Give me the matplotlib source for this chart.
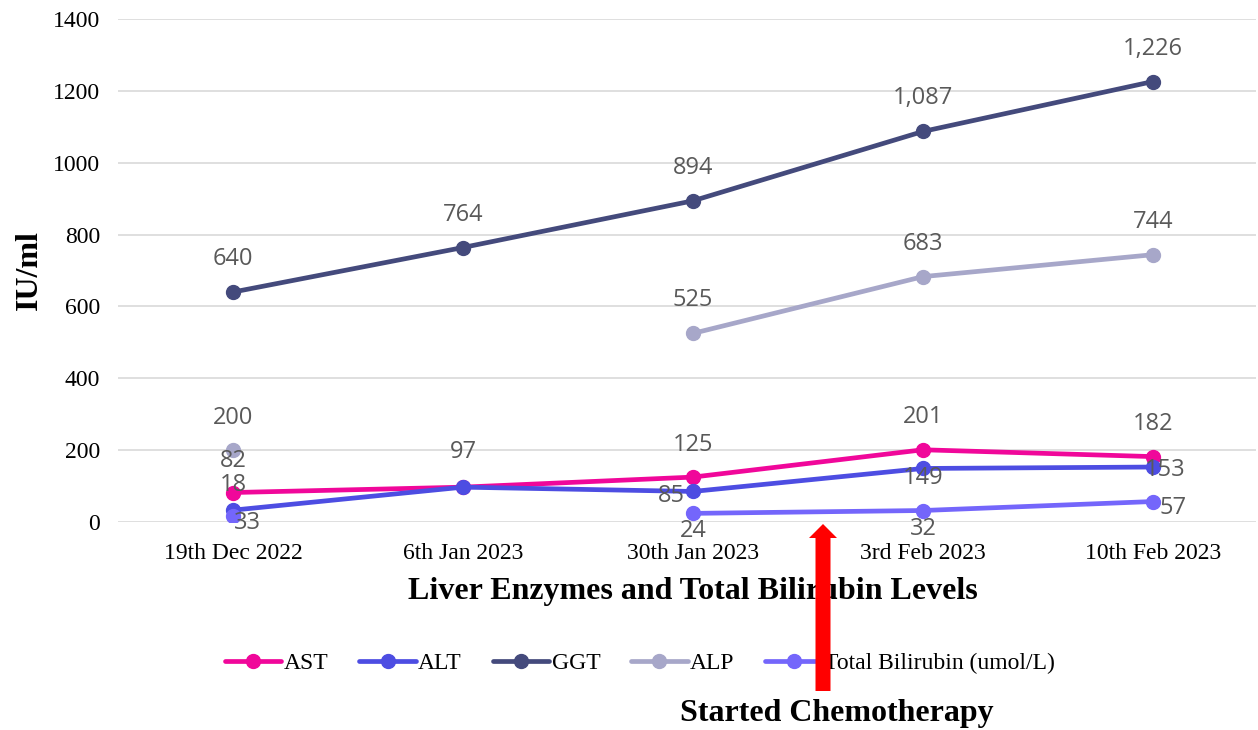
import numpy as np
import matplotlib.pyplot as plt
from matplotlib.patches import FancyArrow

dates = ["19th Dec 2022", "6th Jan 2023", "30th Jan 2023", "3rd Feb 2023", "10th Feb 2023"]
ast = [82, 97, 125, 201, 182]
alt = [33, 97, 85, 149, 153]
ggt = [640, 764, 894, 1087, 1226]
alp = [200, np.nan, 525, 683, 744]
bilirubin = [18, np.nan, 24, 32, 57]

series = [
    ("AST", ast, "#F0079A"),
    ("ALT", alt, "#4D4DE2"),
    ("GGT", ggt, "#444A7C"),
    ("ALP", alp, "#A7A7C9"),
    ("Total Bilirubin (umol/L)", bilirubin, "#7466FB"),
]

# label offsets in pixels (dx, dy) per series per point
offsets = {
    "AST": [(0, 32), (0, 35), (0, 32), (0, 33), (0, 33)],
    "ALT": [(14, -13), None, (-22, -5), (0, -10), (12, -3)],
    "GGT": [(0, 33)] * 5,
    "ALP": [(0, 32), None, (0, 33), (0, 33), (0, 33)],
    "Total Bilirubin (umol/L)": [(0, 31), None, (0, -18), (0, -18), (20, -6)],
}

serif = "Liberation Serif"
lab_color = "#595959"

fig = plt.figure(figsize=(12.58, 7.3), dpi=100)
ax = fig.add_axes([118 / 1258, 1 - 522 / 730, 1138 / 1258, (522 - 19) / 730])

x = np.arange(len(dates))
for name, vals, col in series:
    ax.plot(x, vals, color=col, lw=3.4, marker="o", markersize=10,
            solid_capstyle="round", label=name, zorder=3)
    for i, v in enumerate(vals):
        off = offsets[name][i]
        if off is None or np.isnan(v):
            continue
        ax.annotate(f"{v:,.0f}", (x[i], v), xytext=off, textcoords="offset pixels",
                    ha="center", va="center", fontsize=17, color=lab_color,
                    family="Open Sans", zorder=4)

ax.set_xlim(-0.5, 4.448)
ax.set_ylim(0, 1400)
ax.set_yticks(range(0, 1401, 200))
ax.set_xticks(x)
ax.set_xticklabels(dates)
for s in ax.spines.values():
    s.set_visible(False)
ax.grid(axis="y", color="#D9D9D9", lw=1.2, zorder=0)
ax.tick_params(length=0, labelsize=17, pad=13)
for t in ax.get_xticklabels() + ax.get_yticklabels():
    t.set_family(serif)
ax.tick_params(axis="x", pad=15)
ax.set_ylabel("IU/ml", family=serif, fontsize=23, fontweight="bold", labelpad=6)

fig.text(693 / 1258, 1 - 591 / 730, "Liver Enzymes and Total Bilirubin Levels",
         ha="center", va="center", family=serif, fontsize=23, fontweight="bold")

handles, labels = ax.get_legend_handles_labels()
fig.legend(handles, labels, loc="center", bbox_to_anchor=(640 / 1258, 1 - 663 / 730),
           ncol=5, frameon=False, prop={"family": serif, "size": 17},
           handlelength=2.4, handletextpad=0.1, columnspacing=1.3)

arrow = FancyArrow(8.23, (730 - 691) / 100, 0, (691 - 524) / 100,
                   width=0.15, head_width=0.28, head_length=0.14,
                   length_includes_head=True, color="#FF0000", lw=0,
                   transform=fig.dpi_scale_trans, zorder=10)
fig.patches.append(arrow)

fig.text(837 / 1258, 1 - 713 / 730, "Started Chemotherapy", ha="center", va="center",
         family=serif, fontsize=23, fontweight="bold")

fig.savefig("out.png", dpi=100)
